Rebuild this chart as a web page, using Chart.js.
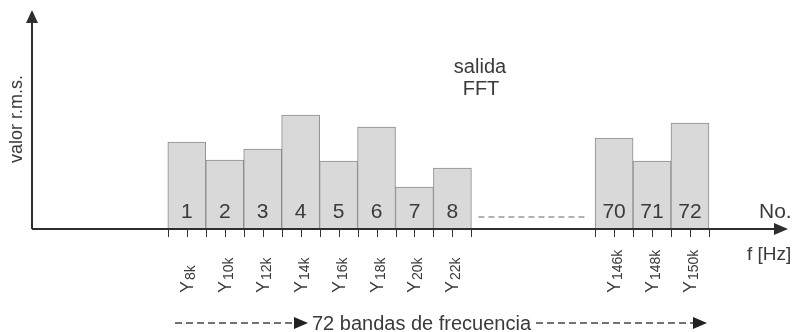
<!DOCTYPE html>
<html>
<head>
<meta charset="utf-8">
<script src="https://cdn.jsdelivr.net/npm/chart.js@4"></script>
<style>
    html, body { margin: 0; padding: 0; background: #fff; }
</style>
</head>
<body>
<canvas id="chart" width="799" height="332"></canvas>
<script>
const bandNumbers = ['1', '2', '3', '4', '5', '6', '7', '8', '70', '71', '72'];
const rmsValues = [8.7, 6.9, 8.0, 11.4, 6.8, 10.2, 4.2, 6.1, 9.1, 6.8, 10.6];
const freqLabels = ['8k', '10k', '12k', '14k', '16k', '18k', '20k', '22k', '146k', '148k', '150k'];

// the axis is broken after band 8, this many empty slots are left there
const gapAfter = 8;
const gapSlots = 3.26;

const ink = '#3a3a3a';
const font = "'Liberation Sans', Arial, sans-serif";

function slotOf(i) {
    return i + (i >= gapAfter ? gapSlots : 0);
}

function arrowHead(ctx, tipX, tipY, dir, len, half) {
    ctx.beginPath();
    if (dir === 'right') {
        ctx.moveTo(tipX, tipY);
        ctx.lineTo(tipX - len, tipY - half);
        ctx.lineTo(tipX - len, tipY + half);
    } else {
        ctx.moveTo(tipX, tipY);
        ctx.lineTo(tipX - half, tipY + len);
        ctx.lineTo(tipX + half, tipY + len);
    }
    ctx.closePath();
    ctx.fill();
}

function dashedArrow(ctx, x1, x2, y) {
    ctx.save();
    ctx.setLineDash([7, 4]);
    ctx.lineWidth = 1.6;
    ctx.strokeStyle = '#444';
    ctx.beginPath();
    ctx.moveTo(x1, y);
    ctx.lineTo(x2 - 14, y);
    ctx.stroke();
    ctx.restore();
    ctx.fillStyle = '#222';
    arrowHead(ctx, x2, y, 'right', 14, 6);
}

const decor = {
    id: 'decor',
    afterDatasetsDraw(chart) {
        const { ctx, chartArea: area } = chart;
        const bars = chart.getDatasetMeta(0).data;
        const base = area.bottom;

        ctx.save();

        // numbers inside the bars
        ctx.fillStyle = ink;
        ctx.font = `21px ${font}`;
        ctx.textAlign = 'center';
        ctx.textBaseline = 'alphabetic';
        bars.forEach((bar, i) => ctx.fillText(bandNumbers[i], bar.x, base - 11));

        // dashed line for the missing bands
        const lastLeft = bars[gapAfter - 1];
        const firstRight = bars[gapAfter];
        ctx.save();
        ctx.setLineDash([6, 4]);
        ctx.strokeStyle = '#9a9a9a';
        ctx.lineWidth = 1.3;
        ctx.beginPath();
        ctx.moveTo(lastLeft.x + lastLeft.width / 2 + 7, base - 12);
        ctx.lineTo(firstRight.x - firstRight.width / 2 - 9, base - 12);
        ctx.stroke();
        ctx.restore();

        // axes
        ctx.strokeStyle = '#2e2e2e';
        ctx.fillStyle = '#2e2e2e';
        ctx.lineWidth = 2;
        ctx.beginPath();
        ctx.moveTo(area.left, base);
        ctx.lineTo(area.right - 12, base);
        ctx.moveTo(area.left, base);
        ctx.lineTo(area.left, area.top + 10);
        ctx.stroke();
        arrowHead(ctx, area.right - 1, base, 'right', 14, 6);
        arrowHead(ctx, area.left, area.top, 'up', 13, 6);

        // ticks on bar edges and centres
        ctx.lineWidth = 1;
        ctx.strokeStyle = '#333';
        ctx.beginPath();
        bars.forEach(bar => {
            const half = bar.width / 2;
            [bar.x - half, bar.x, bar.x + half].forEach(x => {
                const px = Math.round(x) + 0.5;
                ctx.moveTo(px, base);
                ctx.lineTo(px, base + 8);
            });
        });
        ctx.stroke();

        // frequency labels Y with subscript, rotated
        ctx.fillStyle = ink;
        bars.forEach((bar, i) => {
            ctx.save();
            ctx.translate(bar.x, base + 64);
            ctx.rotate(-Math.PI / 2);
            ctx.textAlign = 'left';
            ctx.font = `18px ${font}`;
            ctx.fillText('Y', 0, 6);
            const w = ctx.measureText('Y').width;
            ctx.font = `14px ${font}`;
            ctx.fillText(freqLabels[i], w + 1, 8);
            ctx.restore();
        });

        // axis names
        ctx.font = `21px ${font}`;
        ctx.textAlign = 'left';
        ctx.fillText('No.', area.right - 30, base - 11);
        ctx.font = `19px ${font}`;
        ctx.fillText('f [Hz]', area.right - 42, base + 31);

        ctx.save();
        ctx.translate(area.left - 10, 119);
        ctx.rotate(-Math.PI / 2);
        ctx.textAlign = 'center';
        ctx.font = `18px ${font}`;
        ctx.fillText('valor r.m.s.', 0, 0);
        ctx.restore();

        ctx.font = `20px ${font}`;
        ctx.textAlign = 'center';
        ctx.fillText('salida', 480, 73);
        ctx.fillText('FFT', 481, 95);

        // bottom caption with dashed arrows
        ctx.textAlign = 'left';
        ctx.fillText('72 bandas de frecuencia', 312, 330);
        dashedArrow(ctx, 175, 308, 323);
        dashedArrow(ctx, 536, 707, 323);

        ctx.restore();
    }
};

new Chart(document.getElementById('chart'), {
    type: 'bar',
    data: {
        labels: bandNumbers,
        datasets: [
            {
                data: rmsValues.map((v, i) => ({ x: slotOf(i), y: v })),
                backgroundColor: '#d9d9d9',
                borderColor: '#8c8c8c',
                borderWidth: 1,
                borderSkipped: 'bottom',
                categoryPercentage: 1,
                barPercentage: 1
            }
        ]
    },
    options: {
        responsive: false,
        animation: false,
        devicePixelRatio: 1,
        layout: { padding: { left: 32, right: 10, top: 10, bottom: 103 } },
        plugins: {
            legend: { display: false },
            tooltip: { enabled: false }
        },
        scales: {
            x: {
                type: 'linear',
                display: false,
                offset: false,
                min: -4.08,
                max: 15.87,
                ticks: { includeBounds: false, stepSize: 1 }
            },
            y: {
                display: false,
                min: 0,
                max: 21.9
            }
        }
    },
    plugins: [decor]
});
</script>
</body>
</html>
